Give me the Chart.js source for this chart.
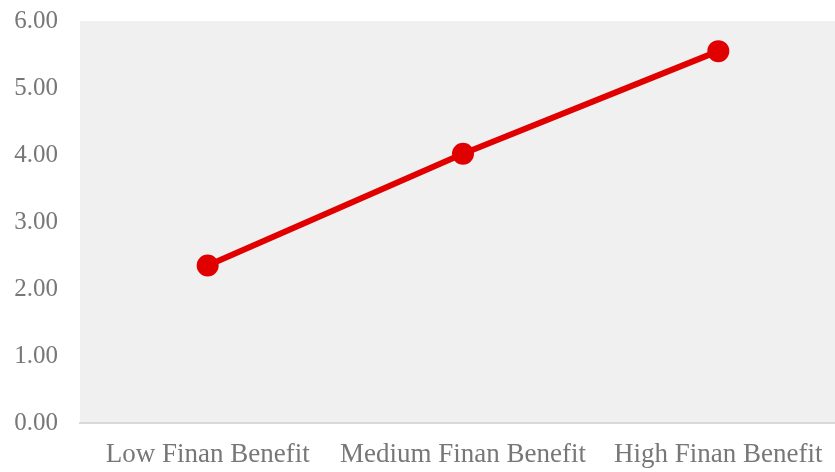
<!DOCTYPE html>
<html>
<head>
<meta charset="utf-8">
<script src="https://cdn.jsdelivr.net/npm/chart.js@4"></script>
<style>
  html, body { margin: 0; padding: 0; background: #fff; overflow: hidden; }
  #wrap { width: 860px; height: 488px; margin-top: -16px; }
</style>
</head>
<body>
<div id="wrap"><canvas id="chart" width="860" height="488"></canvas></div>
<script>
const categories = ["Low Finan Benefit", "Medium Finan Benefit", "High Finan Benefit"];
const values = [2.35, 4.02, 5.55];
const yTicks = [0, 1, 2, 3, 4, 5, 6];

const plotBg = {
  id: 'plotBg',
  beforeDraw(chart) {
    const {ctx, chartArea: a} = chart;
    ctx.save();
    ctx.fillStyle = '#f0f0f0';
    ctx.fillRect(a.left, a.top, a.right - a.left, a.bottom - a.top);
    ctx.restore();
  }
};

new Chart(document.getElementById("chart"), {
  type: 'line',
  data: {
    labels: categories,
    datasets: [{
      data: values,
      borderColor: '#e00000',
      backgroundColor: '#e00000',
      borderWidth: 6,
      pointRadius: 8,
      pointHoverRadius: 8,
      tension: 0
    }]
  },
  options: {
    responsive: false,
    animation: false,
    layout: { padding: { top: 4, right: 12, left: 0, bottom: 0 } },
    plugins: { legend: { display: false }, tooltip: { enabled: false } },
    scales: {
      x: {
        offset: true,
        grid: { display: false, drawTicks: false },
        border: { color: '#d9d9d9', width: 2 },
        ticks: { color: '#777', padding: 16, font: { family: 'Liberation Serif', size: 27 } },
        afterFit: s => { s.height = 49; }
      },
      y: {
        min: 0, max: 6,
        afterBuildTicks: s => { s.ticks = yTicks.map(v => ({ value: v })); },
        grid: { display: false, drawTicks: false },
        border: { display: false },
        ticks: {
          color: '#777', padding: 22,
          font: { family: 'Liberation Serif', size: 25 },
          callback: v => Number(v).toFixed(2)
        },
        afterFit: s => { s.width = 80; }
      }
    }
  },
  plugins: [plotBg]
});
</script>
</body>
</html>
